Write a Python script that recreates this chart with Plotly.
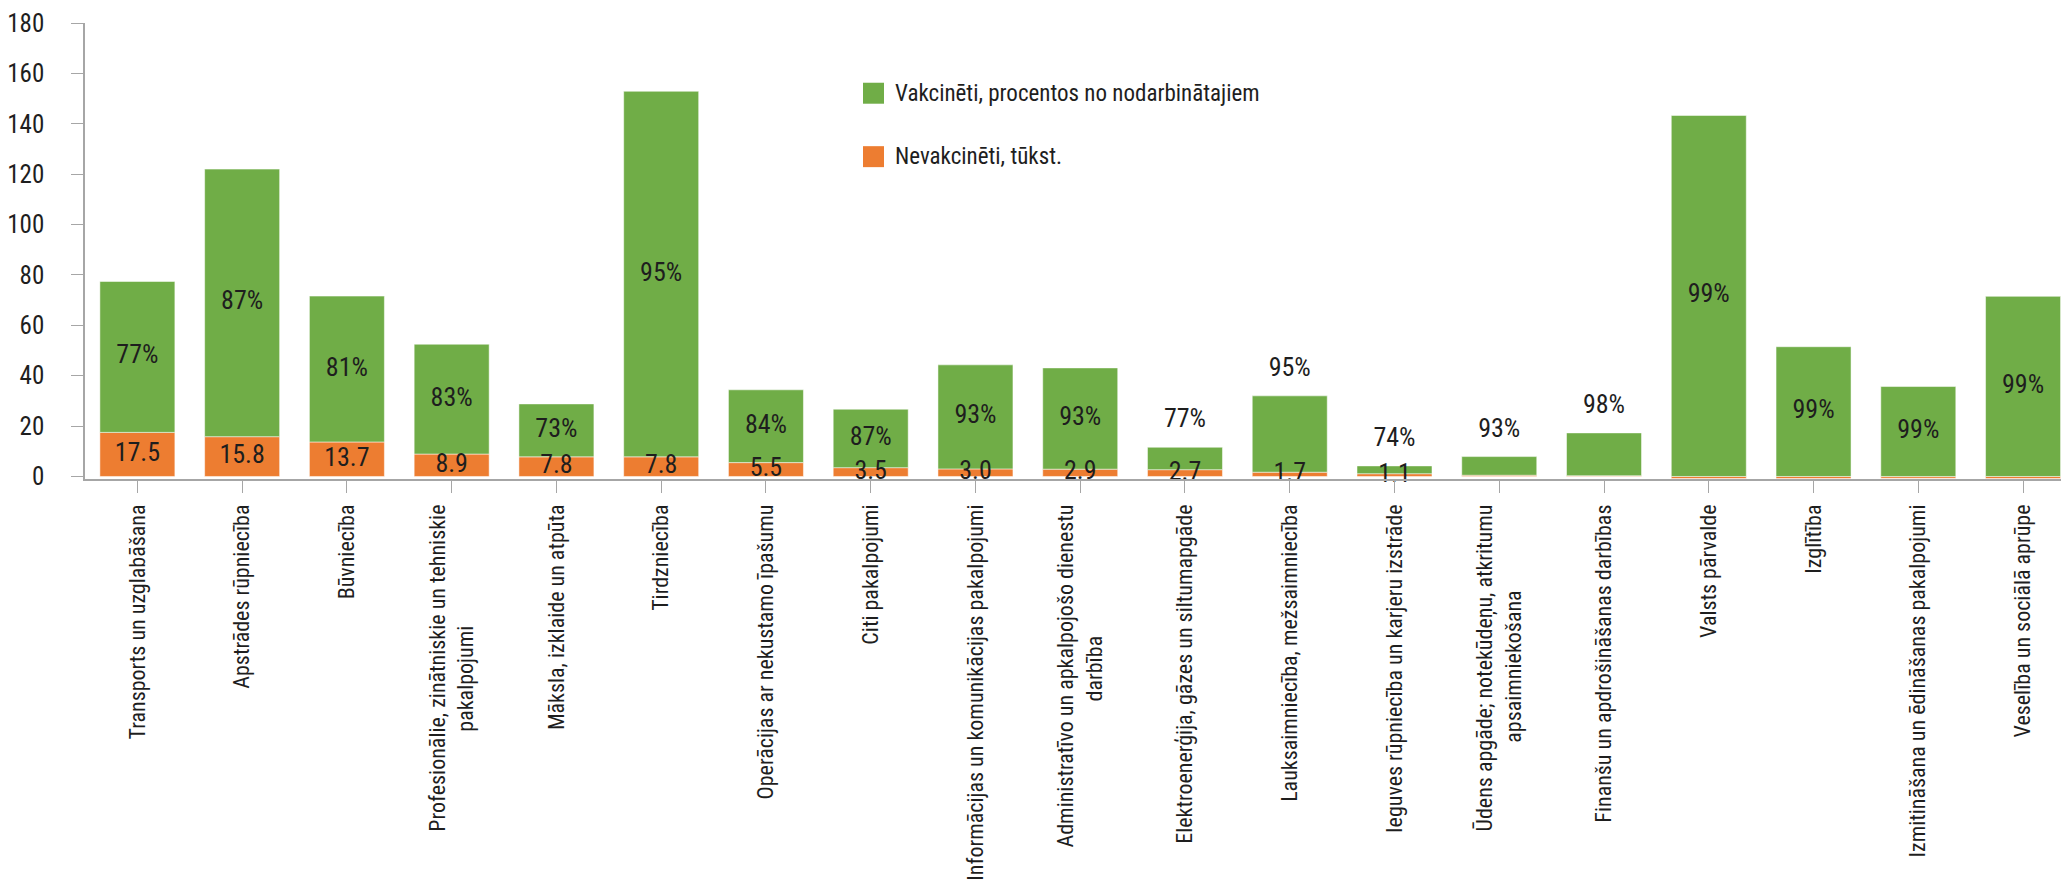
import plotly.graph_objects as go

CATEGORIES = [
    'Transports un uzglabāšana',
    'Apstrādes rūpniecība',
    'Būvniecība',
    'Profesionālie, zinātniskie un tehniskie<br>pakalpojumi',
    'Māksla, izklaide un atpūta',
    'Tirdzniecība',
    'Operācijas ar nekustamo īpašumu',
    'Citi pakalpojumi',
    'Informācijas un komunikācijas pakalpojumi',
    'Administratīvo un apkalpojošo dienestu<br>darbība',
    'Elektroenerģija, gāzes un siltumapgāde',
    'Lauksaimniecība, mežsaimniecība',
    'Ieguves rūpniecība un karjeru izstrāde',
    'Ūdens apgāde; notekūdeņu, atkritumu<br>apsaimniekošana',
    'Finanšu un apdrošināšanas darbības',
    'Valsts pārvalde',
    'Izglītība',
    'Izmitināšana un ēdināšanas pakalpojumi',
    'Veselība un sociālā aprūpe',
]
# thousands, orange part
UNVACCINATED = [17.5, 15.8, 13.7, 8.9, 7.8, 7.8, 5.5, 3.5, 3.0, 2.9,
                2.7, 1.7, 1.1, 0.5, 0.3, -0.8, -0.8, -0.7, -0.8]
# thousands, green part
VACCINATED = [59.9, 106.2, 57.9, 43.6, 21.0, 145.1, 28.9, 23.2, 41.3, 40.2,
              8.9, 30.3, 3.1, 7.4, 17.0, 143.3, 51.5, 35.7, 71.5]
# share of vaccinated among employees, %
VACC_SHARE = [77, 87, 81, 83, 73, 95, 84, 87, 93, 93,
              77, 95, 74, 93, 98, 99, 99, 99, 99]
# bars whose % label sits above the bar instead of inside
LABEL_ABOVE = [10, 11, 12, 13, 14]

GREEN = '#70AD47'
ORANGE = '#ED7D31'
AXIS = '#A6A6A6'
INK = '#1e1e1e'
FONT = 'Roboto Condensed, Roboto, sans-serif'

# the page body keeps its default 8px margin, so the figure starts at (8, 8)
W, H = 2061, 882
L, T, B = 77, 14.7, 410.8
CAT_PX = 104.76  # width of one category slot


def centred(label):
    # rotated multi-line tick labels are end-aligned; pad the short line so it sits centred
    lines = label.split('<br>')
    if len(lines) == 1:
        return label
    first, second = lines
    pad = round((len(first) - len(second)) * 0.85)
    return first + '<br>' + second + '\u00a0' * pad


ticktext = [centred(c) for c in CATEGORIES]
xs = list(range(len(CATEGORIES)))

fig = go.Figure()
fig.add_trace(go.Bar(
    x=xs, y=UNVACCINATED, name='Nevakcinēti, tūkst.',
    marker=dict(color=ORANGE, line=dict(color='rgba(255,255,255,0.5)', width=1)),
    showlegend=False, hoverinfo='skip',
))
fig.add_trace(go.Bar(
    x=xs, y=VACCINATED, name='Vakcinēti, procentos no nodarbinātajiem',
    marker=dict(color=GREEN, line=dict(color='rgba(255,255,255,0.5)', width=1)),
    showlegend=False, hoverinfo='skip',
))

# value labels for the orange part
fig.add_trace(go.Scatter(
    x=xs, y=[v / 2 for v in UNVACCINATED],
    text=[f'{v:.1f}' if v >= 1 else '' for v in UNVACCINATED],
    mode='text', textposition='middle center',
    textfont=dict(family=FONT, size=26, color=INK),
    cliponaxis=False, showlegend=False, hoverinfo='skip',
))

# % labels: centred on the green part, or above small bars
pct_y = []
for i, (u, v) in enumerate(zip(UNVACCINATED, VACCINATED)):
    base = max(u, 0)
    pct_y.append(base + v + 10.5 if i in LABEL_ABOVE else base + v / 2)
fig.add_trace(go.Scatter(
    x=xs, y=pct_y, text=[f'{p}%' for p in VACC_SHARE],
    mode='text', textposition='middle center',
    textfont=dict(family=FONT, size=26, color=INK),
    cliponaxis=False, showlegend=False, hoverinfo='skip',
))

plot_w = W - L
plot_h = H - T - B


def px_x(px):
    return (px - 8 - L) / plot_w


def px_y(py):
    return 1 - (py - 8 - T) / plot_h


legend_items = [
    ('Vakcinēti, procentos no nodarbinātajiem', GREEN, 93),
    ('Nevakcinēti, tūkst.', ORANGE, 156.5),
]
shapes, annotations = [], []
for text, color, cy in legend_items:
    shapes.append(dict(type='rect', xref='paper', yref='paper',
                       x0=px_x(863), x1=px_x(884), y0=px_y(cy - 10.5), y1=px_y(cy + 10.5),
                       fillcolor=color, line=dict(width=0)))
    annotations.append(dict(text=text, xref='paper', yref='paper',
                            x=px_x(893), y=px_y(cy), xanchor='left', yanchor='middle',
                            showarrow=False, font=dict(family=FONT, size=23, color=INK)))

fig.update_layout(
    width=W, height=H,
    barmode='relative', bargap=0.284,
    paper_bgcolor='white', plot_bgcolor='white',
    margin=dict(l=L, r=0, t=T, b=B, pad=0, autoexpand=False),
    font=dict(family=FONT, color=INK),
    shapes=shapes, annotations=annotations,
    showlegend=False,
)
fig.update_xaxes(
    tickmode='array', tickvals=xs, ticktext=ticktext,
    range=[-0.5, plot_w / CAT_PX - 0.5], tickangle=-90, automargin=False,
    tickson='boundaries', ticks='outside', ticklen=12, tickcolor=AXIS, tickwidth=1.3,
    showline=True, linecolor=AXIS, linewidth=1.5,
    showgrid=False, zeroline=False,
    tickfont=dict(family=FONT, size=22, color=INK),
    ticklabelstandoff=3, ticklabeloverflow='allow',
)
fig.update_yaxes(
    range=[-1, 180], tickmode='linear', tick0=0, dtick=20, automargin=False,
    ticks='outside', ticklen=12, tickcolor=AXIS, tickwidth=1.3,
    showline=True, linecolor=AXIS, linewidth=1.5,
    showgrid=False, zeroline=False,
    tickfont=dict(family=FONT, size=25, color=INK),
    ticklabelstandoff=22, ticklabeloverflow='allow',
)

fig.write_html('out.html')
